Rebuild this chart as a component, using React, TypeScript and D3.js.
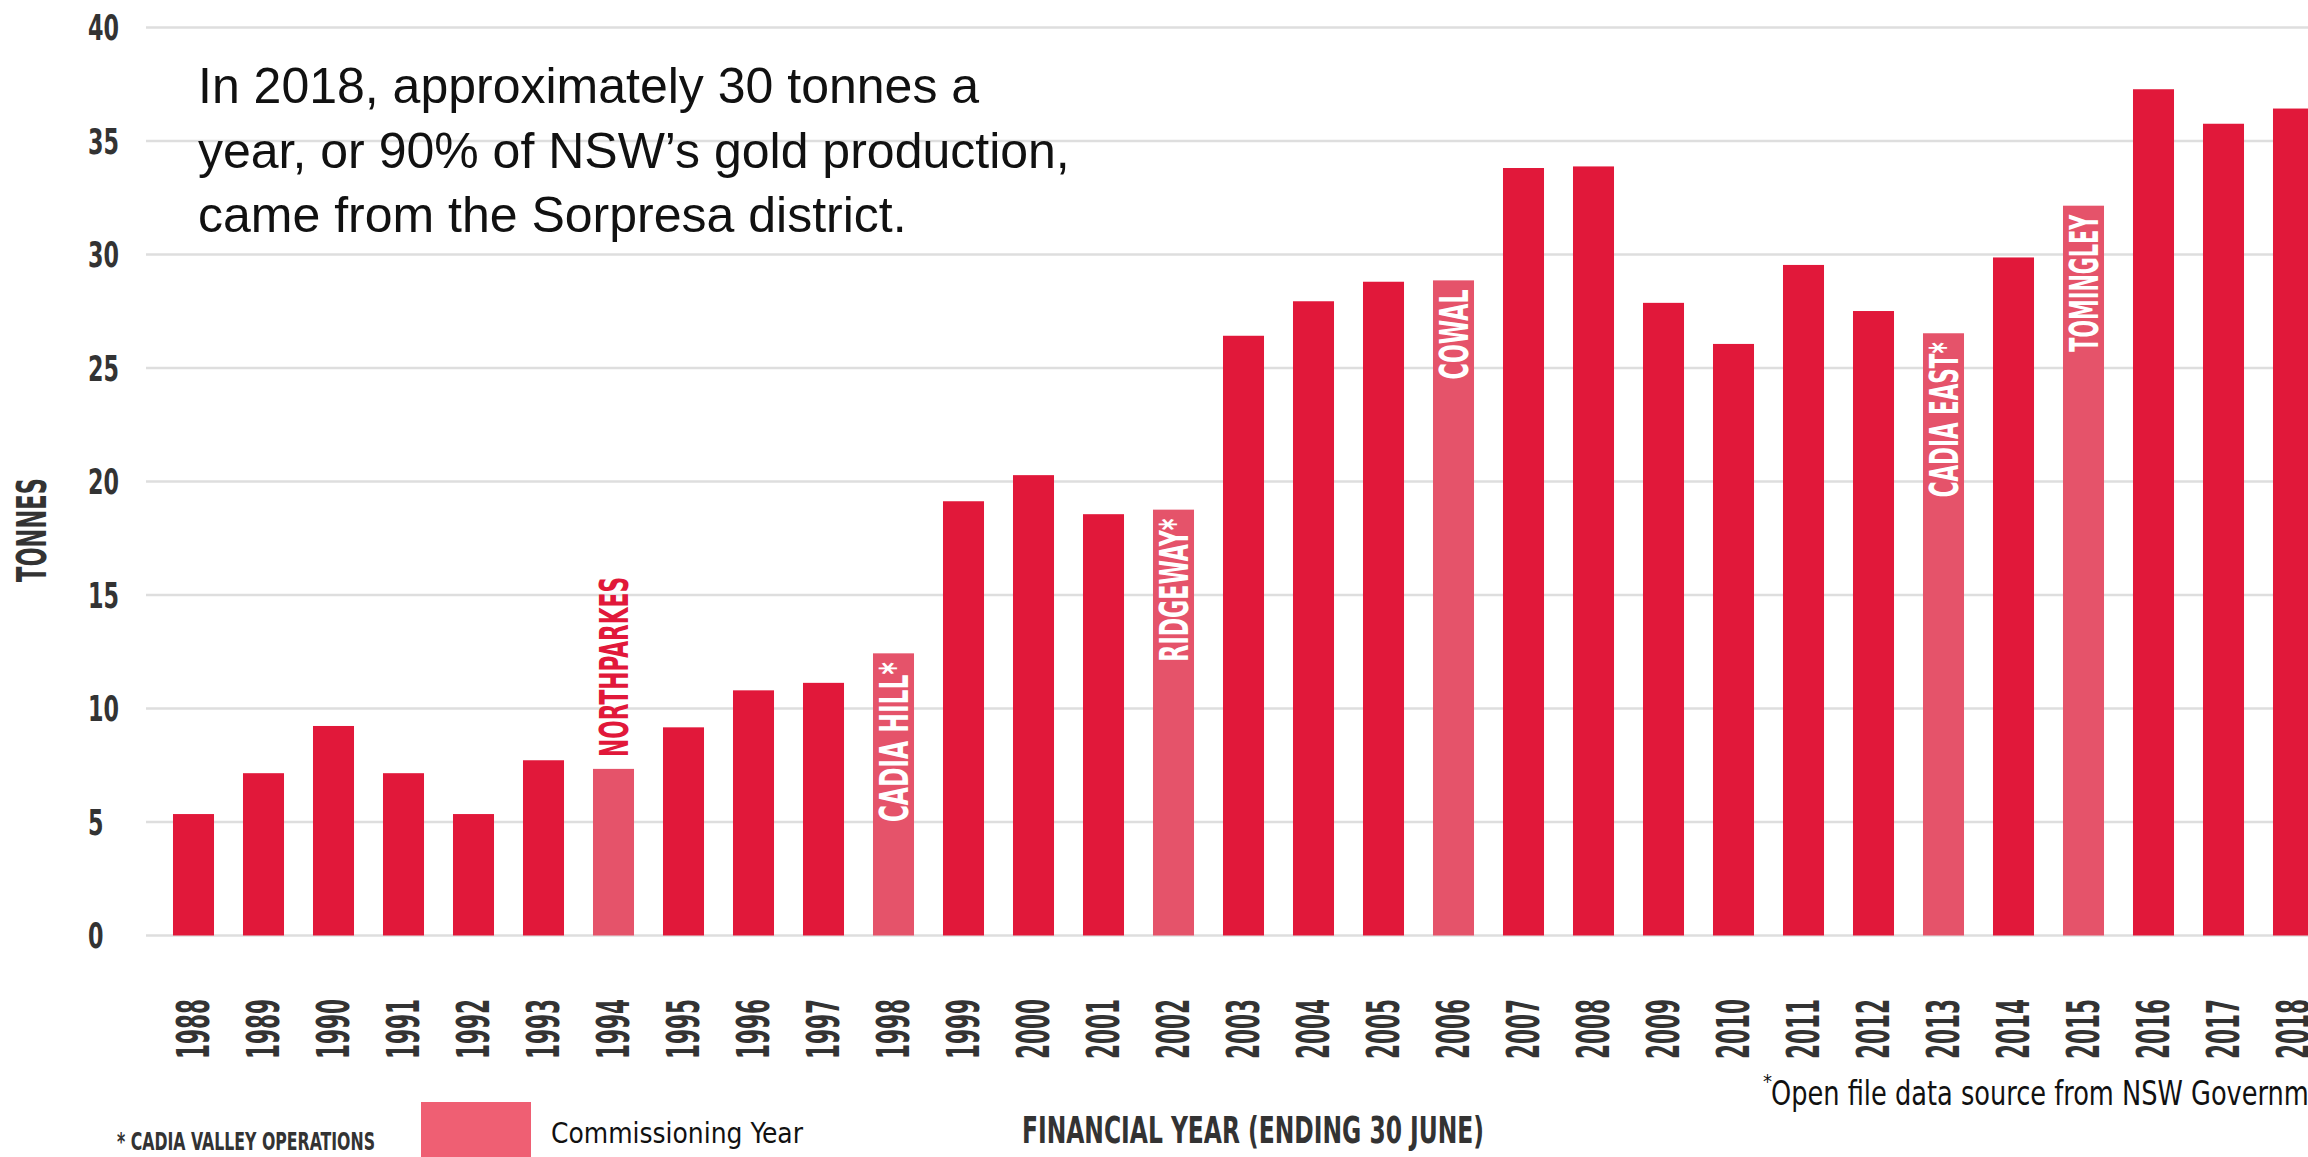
import React from 'react';
import * as d3 from 'd3';

const years: number[] = [1988, 1989, 1990, 1991, 1992, 1993, 1994, 1995, 1996, 1997, 1998, 1999, 2000, 2001, 2002, 2003, 2004, 2005, 2006, 2007, 2008, 2009, 2010, 2011, 2012, 2013, 2014, 2015, 2016, 2017, 2018];
const tonnes: number[] = [5.35, 7.15, 9.23, 7.15, 5.35, 7.72, 7.34, 9.17, 10.8, 11.13, 12.43, 19.13, 20.28, 18.56, 18.76, 26.42, 27.94, 28.8, 28.86, 33.81, 33.88, 27.87, 26.06, 29.54, 27.51, 26.53, 29.87, 32.15, 37.28, 35.76, 36.43];
const commissioningYears: number[] = [1994, 1998, 2002, 2006, 2013, 2015];
const mineLabels: string[] = ['NORTHPARKES', 'CADIA HILL*', 'RIDGEWAY*', 'COWAL', 'CADIA EAST*', 'TOMINGLEY'];
const yTicks: number[] = [0, 5, 10, 15, 20, 25, 30, 35, 40];
const annotationLines: string[] = [
  'In 2018, approximately 30 tonnes a',
  'year, or 90% of NSW\u2019s gold production,',
  'came from the Sorpresa district.',
];
const yAxisTitle = 'TONNES';
const xAxisTitle = 'FINANCIAL YEAR (ENDING 30 JUNE)';
const legendLabel = 'Commissioning Year';
const cadiaNote = '* CADIA VALLEY OPERATIONS';
const sourceNote = 'Open file data source from NSW Government';

const W = 2308;
const H = 1157;
const RED = '#E1183A';
const PINK = '#E5536A';
const LEGEND_PINK = '#EF5F73';
const GRID = '#DEDEDE';
const DARK = '#333333';
const COND = "'Liberation Sans Narrow', 'DejaVu Sans Condensed', 'Liberation Sans', Arial, sans-serif";
const SANS = "'Liberation Sans', Arial, Helvetica, sans-serif";

// text lengths (styling) for the condensed labels
const labelLen: Record<string, number> = {
  'NORTHPARKES': 180,
  'CADIA HILL*': 160,
  'RIDGEWAY*': 143,
  'COWAL': 90,
  'CADIA EAST*': 155,
  'TOMINGLEY': 137,
};

export default function App() {
  const x = d3
    .scaleBand<number>()
    .domain(years)
    .range([158.5, 158.5 + years.length * 70])
    .paddingInner(0.414)
    .paddingOuter(0.207);
  const y = d3.scaleLinear().domain([0, 40]).range([935.5, 27.5]);

  const bars = years.map((yr, i) => ({ yr, v: tonnes[i], comm: commissioningYears.includes(yr) }));

  return (
    <svg
      width={W}
      height={H}
      viewBox={`0 0 ${W} ${H}`}
      style={{ position: 'absolute', left: 0, top: 0, display: 'block', background: '#fff' }}
    >
      <rect x={0} y={0} width={W} height={H} fill="#fff" />
      {yTicks.map((t) => (
        <line key={'g' + t} x1={146} x2={W} y1={y(t)} y2={y(t)} stroke={GRID} strokeWidth={2.5} />
      ))}
      {yTicks.map((t) => (
        <text
          key={'t' + t}
          x={88}
          y={y(t)}
          dy="0.36em"
          fontFamily={COND}
          fontWeight="bold"
          fontSize={36}
          fill={DARK}
          textLength={String(t).length * 15.5}
          lengthAdjust="spacingAndGlyphs"
        >
          {t}
        </text>
      ))}
      <text
        transform={`translate(32,530) rotate(-90)`}
        textAnchor="middle"
        dy="0.36em"
        fontFamily={COND}
        fontWeight="bold"
        fontSize={40}
        fill={DARK}
        textLength={104}
        lengthAdjust="spacingAndGlyphs"
      >
        {yAxisTitle}
      </text>
      {bars.map((b) => (
        <rect
          key={'b' + b.yr}
          x={x(b.yr)}
          y={y(b.v)}
          width={x.bandwidth()}
          height={y(0) - y(b.v)}
          fill={b.comm ? PINK : RED}
        />
      ))}
      {commissioningYears.map((yr, i) => {
        const v = tonnes[years.indexOf(yr)];
        const cx = (x(yr) as number) + x.bandwidth() / 2;
        const label = mineLabels[i];
        const outside = y(0) - y(v) < 200;
        const ty = outside ? y(v) - 12 : y(v) + 9;
        return (
          <text
            key={'m' + yr}
            transform={`translate(${cx},${ty}) rotate(-90)`}
            textAnchor={outside ? 'start' : 'end'}
            dy="0.36em"
            fontFamily={COND}
            fontWeight="bold"
            fontSize={39}
            fill={outside ? RED : '#fff'}
            textLength={labelLen[label]}
            lengthAdjust="spacingAndGlyphs"
          >
            {label}
          </text>
        );
      })}
      {years.map((yr) => (
        <text
          key={'x' + yr}
          transform={`translate(${(x(yr) as number) + x.bandwidth() / 2},999) rotate(-90)`}
          textAnchor="end"
          dy="0.36em"
          fontFamily={COND}
          fontWeight="bold"
          fontSize={44}
          fill={DARK}
          textLength={60}
          lengthAdjust="spacingAndGlyphs"
        >
          {yr}
        </text>
      ))}
      <text
        x={1022}
        y={1143}
        fontFamily={COND}
        fontWeight="bold"
        fontSize={38}
        fill={DARK}
        textLength={462}
        lengthAdjust="spacingAndGlyphs"
      >
        {xAxisTitle}
      </text>
      {annotationLines.map((l, i) => (
        <text key={'a' + i} x={198} y={103 + i * 64.5} fontFamily={SANS} fontSize={50} fill="#111">
          {l}
        </text>
      ))}
      <text
        x={117}
        y={1150}
        fontFamily={COND}
        fontWeight="bold"
        fontSize={25}
        fill={DARK}
        textLength={258}
        lengthAdjust="spacingAndGlyphs"
      >
        {cadiaNote}
      </text>
      <rect x={421} y={1102} width={110} height={110} fill={LEGEND_PINK} />
      <text
        x={551}
        y={1143}
        fontFamily={COND}
        fontSize={28}
        fill="#111"
        textLength={252}
        lengthAdjust="spacingAndGlyphs"
      >
        {legendLabel}
      </text>
      <text x={1763} y={1088} fontFamily={COND} fontSize={20} fill="#111">
        *
      </text>
      <text
        x={1771}
        y={1105}
        fontFamily={COND}
        fontSize={33}
        fill="#111"
        textLength={580}
        lengthAdjust="spacingAndGlyphs"
      >
        {sourceNote}
      </text>
    </svg>
  );
}
